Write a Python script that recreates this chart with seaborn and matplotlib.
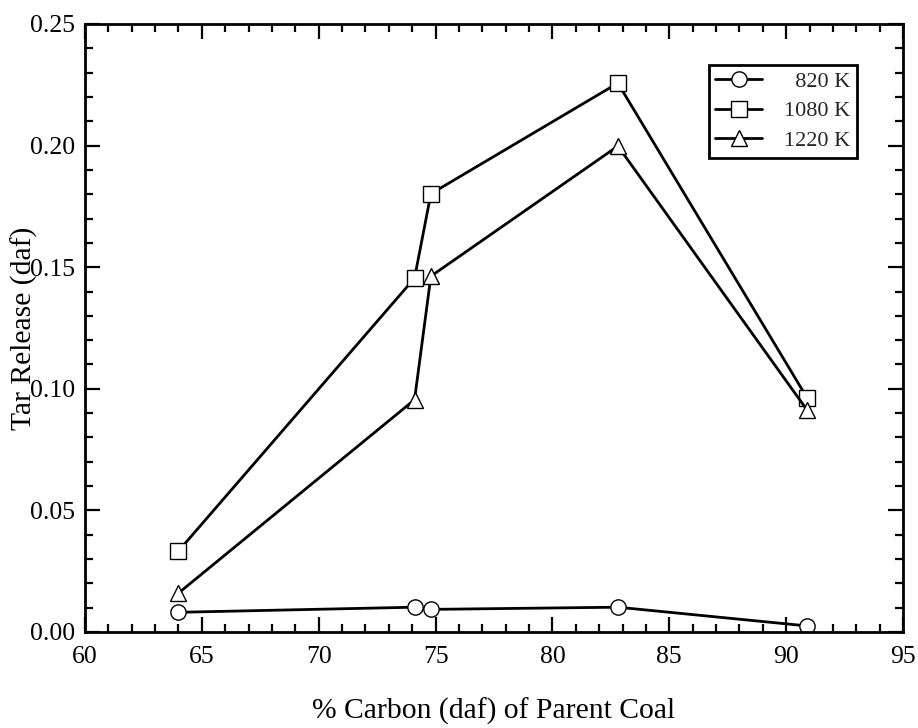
import matplotlib
matplotlib.use("Agg")
import matplotlib.pyplot as plt
from matplotlib.ticker import MultipleLocator, FormatStrFormatter
import seaborn as sns
import pandas as pd

# ---- data ----
series_labels = ["820 K", "1080 K", "1220 K"]
carbon_820 = [64.0, 74.1, 74.8, 82.8, 90.9]
tar_820 = [0.0081, 0.0102, 0.0093, 0.0102, 0.0025]
carbon_1080 = [64.0, 74.1, 74.8, 82.8, 90.9]
tar_1080 = [0.0333, 0.1455, 0.1802, 0.2257, 0.0962]
carbon_1220 = [64.0, 74.1, 74.8, 82.8, 90.9]
tar_1220 = [0.0160, 0.0955, 0.1463, 0.1998, 0.0912]
legend_texts = ["  820 K", "1080 K", "1220 K"]

df = pd.concat([
    pd.DataFrame({"carbon": carbon_820, "tar": tar_820, "T": series_labels[0]}),
    pd.DataFrame({"carbon": carbon_1080, "tar": tar_1080, "T": series_labels[1]}),
    pd.DataFrame({"carbon": carbon_1220, "tar": tar_1220, "T": series_labels[2]}),
], ignore_index=True)

sns.set_theme(style="white")
plt.rcParams["font.family"] = ["Liberation Serif", "DejaVu Serif"]

fig = plt.figure(figsize=(9.18, 7.28), dpi=100)
ax = fig.add_axes([85 / 918, (728 - 632) / 728, 818 / 918, 608 / 728])

sns.lineplot(
    data=df, x="carbon", y="tar", hue="T", style="T",
    hue_order=series_labels, style_order=series_labels,
    palette=["black"] * 3, markers=["o", "s", "^"], dashes=False,
    errorbar=None, sort=False, legend=False, ax=ax,
    linewidth=2.0, markersize=11, markerfacecolor="white",
    markeredgecolor="black", markeredgewidth=1.0,
)

ax.set_xlim(60, 95)
ax.set_ylim(0, 0.25)
ax.xaxis.set_major_locator(MultipleLocator(5))
ax.xaxis.set_minor_locator(MultipleLocator(1))
ax.yaxis.set_major_locator(MultipleLocator(0.05))
ax.yaxis.set_minor_locator(MultipleLocator(0.01))
ax.yaxis.set_major_formatter(FormatStrFormatter("%.2f"))
ax.xaxis.set_major_formatter(FormatStrFormatter("%d"))

for s in ax.spines.values():
    s.set_visible(True)
    s.set_linewidth(2.0)
    s.set_color("black")

ax.tick_params(which="both", direction="in", top=True, right=True,
               bottom=True, left=True, width=1.6, color="black")
ax.tick_params(which="major", length=11, labelsize=18.5, labelcolor="black")
ax.tick_params(which="minor", length=6)
ax.tick_params(axis="x", which="major", pad=10)
ax.tick_params(axis="y", which="major", pad=7)

ax.set_xlabel("% Carbon (daf) of Parent Coal", fontsize=21.3, color="black")
ax.set_ylabel("Tar Release (daf)", fontsize=21.3, color="black")
ax.xaxis.set_label_coords(0.5, -0.108)
ax.yaxis.set_label_coords(-0.058, 0.5)

handles = ax.get_lines()[:3]
leg = ax.legend(handles, legend_texts, loc="upper right",
                bbox_to_anchor=(0.944, 0.933), fontsize=16, frameon=True,
                fancybox=False, edgecolor="black", framealpha=1,
                handlelength=2.1, handletextpad=1.0, borderpad=0.3,
                labelspacing=0.4, borderaxespad=0)
leg.get_frame().set_linewidth(2.0)

fig.savefig("out.png", dpi=100)
